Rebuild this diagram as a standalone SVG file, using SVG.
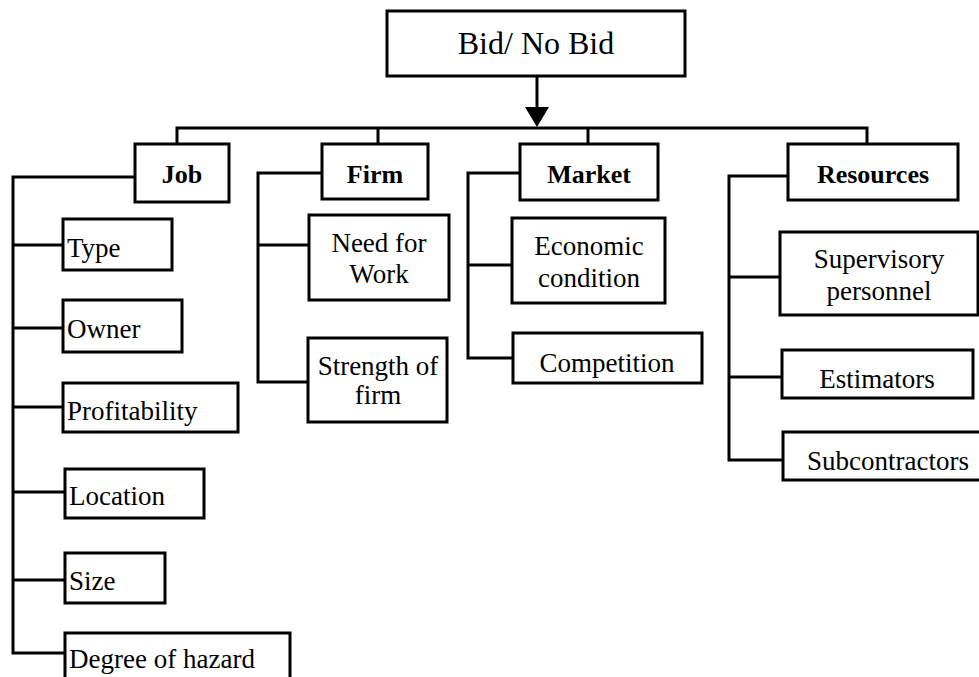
<svg xmlns="http://www.w3.org/2000/svg" width="979" height="677" viewBox="0 0 979 677">
  <style>
    .box { fill: #fff; stroke: #000; stroke-width: 3; }
    .wire { fill: none; stroke: #000; stroke-width: 3; stroke-linejoin: miter; }
    text { font-size: 27px; fill: #000; }
    .c { text-anchor: middle; }
    .b { font-weight: bold; font-size: 26px; }
    .title { font-size: 32px; }
  </style>
  <rect width="979" height="677" fill="#fff"/>

  <!-- connectors -->
  <g id="connectors">
    <line class="wire" x1="537" y1="76" x2="537" y2="110"/>
    <polygon points="525,107 549,107 537,127" fill="#000"/>
    <!-- main bus and drops -->
    <polyline class="wire" points="177,144 177,128 867,128 867,144"/>
    <line class="wire" x1="378" y1="128" x2="378" y2="144"/>
    <line class="wire" x1="588" y1="128" x2="588" y2="144"/>
    <!-- Job branch -->
    <polyline class="wire" points="135,177 13,177 13,653 65,653"/>
    <line class="wire" x1="13" y1="245" x2="63" y2="245"/>
    <line class="wire" x1="13" y1="328" x2="63" y2="328"/>
    <line class="wire" x1="13" y1="407" x2="63" y2="407"/>
    <line class="wire" x1="13" y1="492" x2="65" y2="492"/>
    <line class="wire" x1="13" y1="580" x2="65" y2="580"/>
    <!-- Firm branch -->
    <polyline class="wire" points="322,173 258,173 258,382 308,382"/>
    <line class="wire" x1="258" y1="245" x2="309" y2="245"/>
    <!-- Market branch -->
    <polyline class="wire" points="520,173 468,173 468,358 513,358"/>
    <line class="wire" x1="468" y1="265" x2="512" y2="265"/>
    <!-- Resources branch -->
    <polyline class="wire" points="788,176 729,176 729,460 783,460"/>
    <line class="wire" x1="729" y1="277" x2="780" y2="277"/>
    <line class="wire" x1="729" y1="377" x2="782" y2="377"/>
  </g>

  <g id="labels" font-family="'Liberation Serif', 'Times New Roman', Tinos, 'DejaVu Serif', serif">
  <g id="bid">
    <rect class="box" x="387" y="11" width="298" height="65"/>
    <text class="c title" x="536" y="54">Bid/ No Bid</text>
  </g>

  <g id="job">
    <rect class="box" x="135" y="144" width="94" height="58"/>
    <text class="c b" x="182" y="183">Job</text>
  </g>
  <g id="firm">
    <rect class="box" x="322" y="144" width="106" height="55"/>
    <text class="c b" x="375" y="183">Firm</text>
  </g>
  <g id="market">
    <rect class="box" x="520" y="144" width="138" height="56"/>
    <text class="c b" x="589" y="183">Market</text>
  </g>
  <g id="resources">
    <rect class="box" x="788" y="144" width="170" height="56"/>
    <text class="c b" x="873" y="183">Resources</text>
  </g>

  <g id="type">
    <rect class="box" x="63" y="219" width="109" height="51"/>
    <text x="67" y="257">Type</text>
  </g>
  <g id="owner">
    <rect class="box" x="63" y="300" width="119" height="52"/>
    <text x="67" y="338">Owner</text>
  </g>
  <g id="profitability">
    <rect class="box" x="63" y="383" width="175" height="49"/>
    <text x="67" y="420">Profitability</text>
  </g>
  <g id="location">
    <rect class="box" x="65" y="469" width="139" height="49"/>
    <text x="69" y="505">Location</text>
  </g>
  <g id="size">
    <rect class="box" x="65" y="553" width="100" height="50"/>
    <text x="69" y="590">Size</text>
  </g>
  <g id="hazard">
    <rect class="box" x="65" y="633" width="225" height="60"/>
    <text x="69" y="668">Degree of hazard</text>
  </g>

  <g id="need-for-work">
    <rect class="box" x="309" y="215" width="140" height="85"/>
    <text class="c" x="379" y="252">Need for</text>
    <text class="c" x="379" y="283">Work</text>
  </g>
  <g id="strength">
    <rect class="box" x="308" y="338" width="139" height="84"/>
    <text class="c" x="378" y="375">Strength of</text>
    <text class="c" x="378" y="404">firm</text>
  </g>

  <g id="economic">
    <rect class="box" x="512" y="218" width="153" height="85"/>
    <text class="c" x="589" y="255">Economic</text>
    <text class="c" x="589" y="287">condition</text>
  </g>
  <g id="competition">
    <rect class="box" x="513" y="333" width="189" height="50"/>
    <text class="c" x="607" y="372">Competition</text>
  </g>

  <g id="supervisory">
    <rect class="box" x="780" y="232" width="198" height="83"/>
    <text class="c" x="879" y="268">Supervisory</text>
    <text class="c" x="879" y="300">personnel</text>
  </g>
  <g id="estimators">
    <rect class="box" x="782" y="350" width="191" height="48"/>
    <text class="c" x="877" y="388">Estimators</text>
  </g>
  <g id="subcontractors">
    <rect class="box" x="783" y="432" width="210" height="48"/>
    <text x="807" y="470">Subcontractors</text>
  </g>
  </g>
</svg>
